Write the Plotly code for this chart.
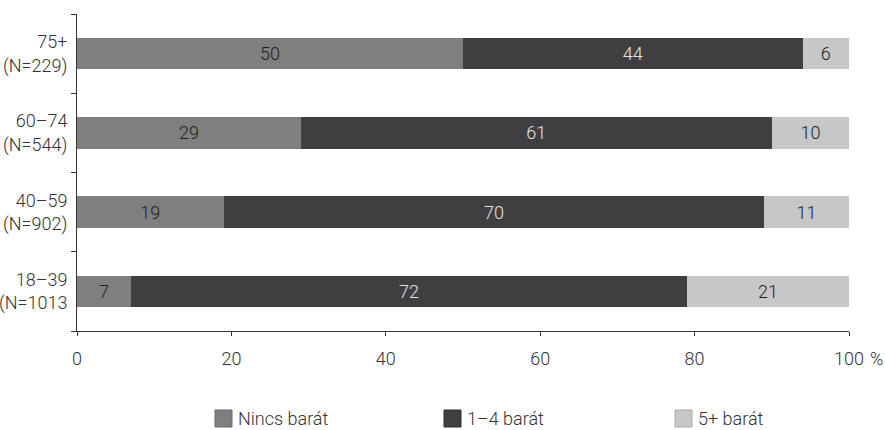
import plotly.graph_objects as go

# Age groups (bottom to top) and share of respondents by number of friends (%)
groups = ["18–39<br>(N=1013", "40–59<br>(N=902)", "60–74<br>(N=544)", "75+<br>(N=229)"]
nincs = [7, 19, 29, 50]
egy_negy = [72, 70, 61, 44]
ot_plusz = [21, 11, 10, 6]

series_names = ["Nincs barát", "1–4 barát", "5+ barát"]
series_values = [nincs, egy_negy, ot_plusz]
bar_colors = ["#7f7f80", "#3f3f41", "#c6c7c8"]
border_colors = ["#6a6a6b", "#2e2e30", "#a9aaab"]
text_colors = ["#1e1e1e", "#e2e2e2", "#1e1e1e"]

x_ticks = [0, 20, 40, 60, 80, 100]
x_ticktext = ["0", "20", "40", "60", "80", "100"]

FONT = "Roboto, sans-serif"
INK = "#333333"

W, H = 885, 430
M_L, M_R, M_T, M_B = 77, 36, 14, 99
PW, PH = W - M_L - M_R, H - M_T - M_B


def px_x(px):
    return (px - M_L) / PW


def px_y(py):
    return (H - M_B - py) / PH


fig = go.Figure()
for name, vals, col, tcol in zip(series_names, series_values, bar_colors, text_colors):
    fig.add_trace(go.Bar(
        y=groups, x=vals, name=name, orientation="h",
        marker=dict(color=col, line=dict(width=0)),
        text=[str(v) for v in vals], textposition="inside",
        insidetextanchor="middle",
        textfont=dict(color=tcol, size=18, family=FONT, weight=300),
        width=0.4, showlegend=False,
    ))

# Legend drawn as swatches with labels beneath the plot
legend_left = [215, 444, 675]
shapes = []
annotations = []
for name, left, col, bcol in zip(series_names, legend_left, bar_colors, border_colors):
    shapes.append(dict(
        type="rect", xref="paper", yref="paper",
        x0=px_x(left), x1=px_x(left + 17), y0=px_y(427), y1=px_y(410),
        fillcolor=col, line=dict(color=bcol, width=1),
    ))
    annotations.append(dict(
        text=name, xref="paper", yref="paper", x=px_x(left + 21), y=px_y(418.5),
        xanchor="left", yanchor="middle", showarrow=False,
        font=dict(size=18, color=INK, family=FONT, weight=300),
    ))

# Percent sign after the last x tick label
annotations.append(dict(
    text="%", xref="x", yref="paper", x=100, y=px_y(358),
    xanchor="left", yanchor="middle", xshift=19, showarrow=False,
    font=dict(size=18, color=INK, family=FONT, weight=300),
))

fig.update_layout(
    barmode="stack",
    width=W, height=H,
    margin=dict(l=M_L, r=M_R, t=M_T, b=M_B),
    plot_bgcolor="white", paper_bgcolor="white",
    font=dict(family=FONT, size=18, color=INK, weight=300),
    showlegend=False,
    shapes=shapes,
    annotations=annotations,
    uniformtext=dict(mode="show", minsize=10),
)
fig.update_xaxes(
    range=[0, 100], tickvals=x_ticks, ticktext=x_ticktext, automargin=False,
    showgrid=False, zeroline=False, showline=True, linecolor=INK, linewidth=1,
    ticks="outside", ticklen=4, tickcolor=INK, ticklabelstandoff=7,
    tickfont=dict(size=18, color=INK, family=FONT, weight=300),
)
fig.update_yaxes(
    automargin=False,
    showgrid=False, zeroline=False, showline=True, linecolor=INK, linewidth=1,
    ticks="outside", ticklen=5, tickcolor=INK, tickson="boundaries",
    tickfont=dict(size=18, color=INK, family=FONT, weight=300), ticklabelstandoff=5,
)

fig.write_html("out.html")
